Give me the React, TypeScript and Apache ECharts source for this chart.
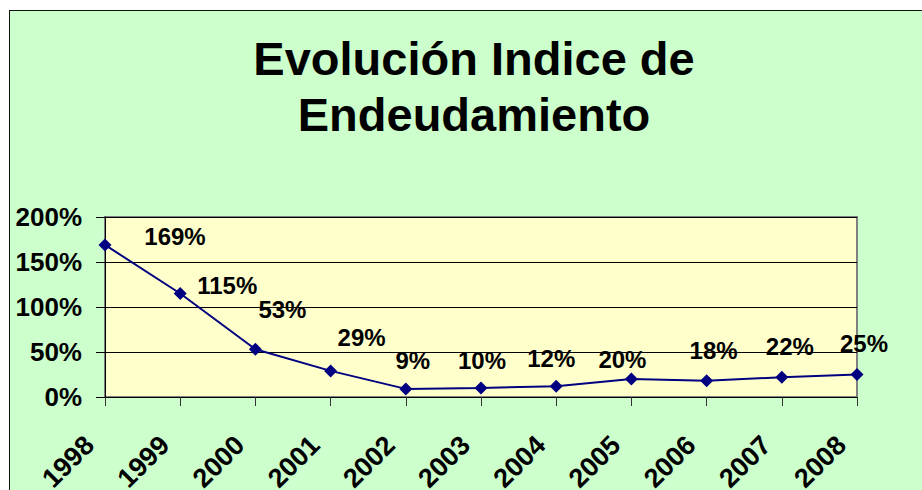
import React, { useEffect, useRef } from "react";
import * as echarts from "echarts";

const years = ["1998", "1999", "2000", "2001", "2002", "2003", "2004", "2005", "2006", "2007", "2008"];
const indice = [169, 115, 53, 29, 9, 10, 12, 20, 18, 22, 25];
const yTicks = { min: 0, max: 200, interval: 50 };
const titleText = "Evolución Indice de\nEndeudamiento";

// label offsets relative to 'top' position (style only)
const labelOffsets: number[][] = [
  [70, 15], [47, 15], [27, -16], [31, -10], [7, -5], [1, -4], [-5, -4],
  [-9, 4], [7, -7], [8, -7], [7, -8],
];

const FONT = "'Liberation Sans', Arial, sans-serif";

export default function App() {
  const ref = useRef<HTMLDivElement>(null);
  useEffect(() => {
    if (!ref.current) return;
    const chart = echarts.init(ref.current, null, { renderer: "svg" });
    chart.setOption({
      animation: false,
      backgroundColor: "transparent",
      textStyle: { fontFamily: FONT },
      graphic: [
        {
          type: "text",
          x: 474,
          y: 30,
          style: {
            text: titleText,
            fontFamily: FONT,
            fontSize: 47,
            fontWeight: "bold",
            lineHeight: 56,
            fill: "#000",
            align: "center",
            verticalAlign: "top",
          },
        },
      ],
      grid: {
        left: 105,
        top: 217,
        right: 65,
        bottom: 93,
        containLabel: false,
        outerBoundsMode: "none",
        show: true,
        backgroundColor: "#FFFFCC",
        borderColor: "#808080",
        borderWidth: 2,
      },
      xAxis: {
        type: "category",
        data: years,
        boundaryGap: false,
        axisLine: { show: true, lineStyle: { color: "#000", width: 1 } },
        axisTick: { show: true, length: 9, inside: false, lineStyle: { color: "#333" } },
        axisLabel: {
          rotate: 45,
          margin: 28,
          padding: [0, 22, 0, 0],
          interval: 0,
          color: "#000",
          fontSize: 27,
          fontWeight: "bold",
          fontFamily: FONT,
        },
        splitLine: { show: false },
      },
      yAxis: {
        type: "value",
        min: yTicks.min,
        max: yTicks.max,
        interval: yTicks.interval,
        axisLine: { show: true, lineStyle: { color: "#000", width: 1 } },
        axisTick: { show: true, length: 9, inside: false, lineStyle: { color: "#000" } },
        axisLabel: {
          formatter: "{value}%",
          margin: 23,
          color: "#000",
          fontSize: 26,
          fontWeight: "bold",
          fontFamily: FONT,
        },
        splitLine: { show: true, lineStyle: { color: "#000", width: 1 } },
      },
      series: [
        {
          type: "line",
          data: indice.map((v, i) => ({
            value: v,
            label: { offset: labelOffsets[i] },
          })),
          symbol: "diamond",
          symbolSize: 13,
          lineStyle: { color: "#000080", width: 2 },
          itemStyle: { color: "#000080" },
          label: {
            show: true,
            position: "top",
            formatter: "{c}%",
            color: "#000",
            fontSize: 24,
            fontWeight: "bold",
            fontFamily: FONT,
          },
        },
      ],
    });
    return () => chart.dispose();
  }, []);

  return (
    <div
      style={{
        position: "fixed",
        left: 0,
        top: 0,
        width: 922,
        height: 490,
        overflow: "hidden",
        background: "#fff",
      }}
    >
      <div
        style={{
          position: "absolute",
          left: 9,
          top: 10,
          width: 1000,
          height: 1000,
          background: "#CCFFCC",
          borderLeft: "1.5px solid #111",
          borderTop: "1.5px solid #111",
        }}
      />
      <div ref={ref} style={{ position: "absolute", left: 0, top: 0, width: 922, height: 490 }} />
    </div>
  );
}
